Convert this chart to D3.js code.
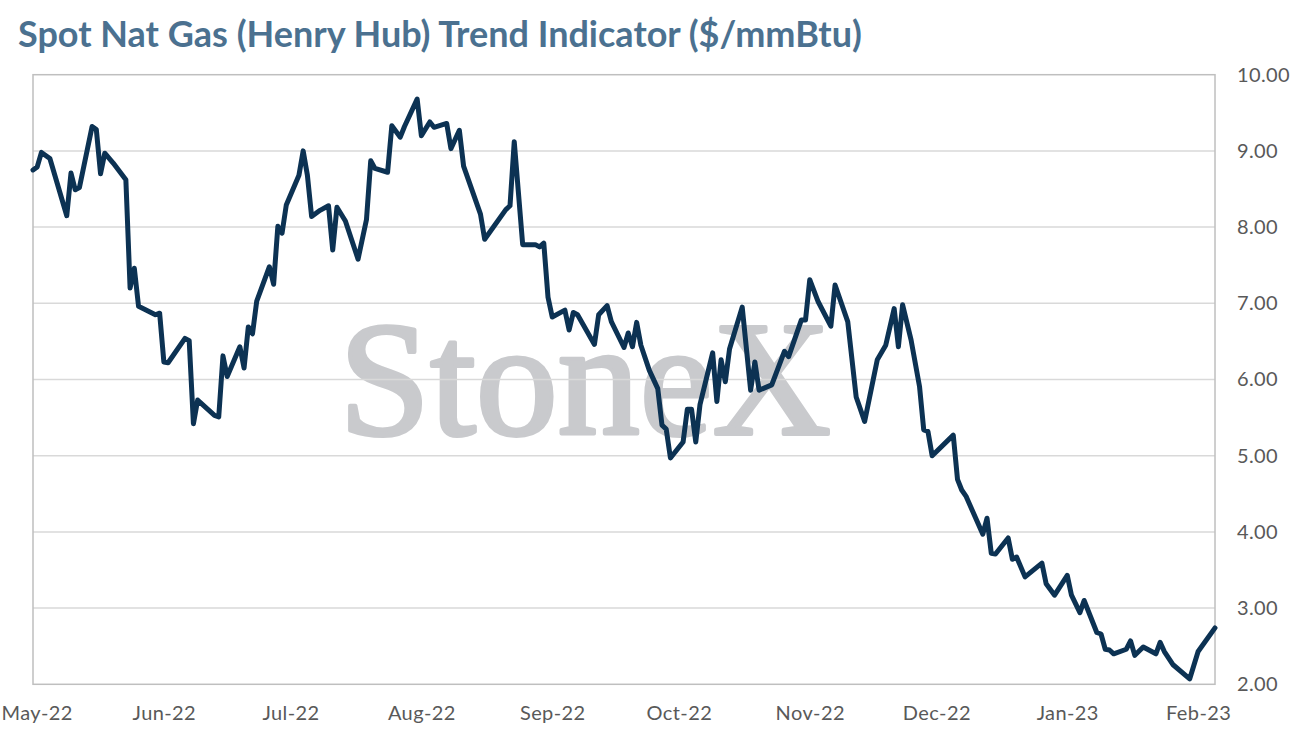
<!DOCTYPE html>
<html>
<head>
<meta charset="utf-8">
<script src="https://cdn.jsdelivr.net/npm/d3@7"></script>
<style>
  body { margin: 0; background: #fff; }
  svg { display: block; }
</style>
</head>
<body>
<div id="chart-container"></div>
<script>
const chartTitle = 'Spot Nat Gas (Henry Hub) Trend Indicator ($/mmBtu)';

const dates = [
  '2022-05-02', '2022-05-03', '2022-05-04', '2022-05-06', '2022-05-10', '2022-05-11', '2022-05-12', '2022-05-13',
  '2022-05-16', '2022-05-17', '2022-05-18', '2022-05-19', '2022-05-21', '2022-05-24', '2022-05-25', '2022-05-26',
  '2022-05-27', '2022-05-31', '2022-06-01', '2022-06-02', '2022-06-03', '2022-06-07', '2022-06-08', '2022-06-09',
  '2022-06-10', '2022-06-14', '2022-06-15', '2022-06-16', '2022-06-17', '2022-06-20', '2022-06-21', '2022-06-22',
  '2022-06-23', '2022-06-24', '2022-06-27', '2022-06-28', '2022-06-29', '2022-06-30', '2022-07-01', '2022-07-04',
  '2022-07-05', '2022-07-06', '2022-07-07', '2022-07-09', '2022-07-11', '2022-07-12', '2022-07-13', '2022-07-15',
  '2022-07-18', '2022-07-20', '2022-07-21', '2022-07-22', '2022-07-25', '2022-07-26', '2022-07-28', '2022-07-29',
  '2022-08-01', '2022-08-02', '2022-08-04', '2022-08-05', '2022-08-08', '2022-08-09', '2022-08-11', '2022-08-12',
  '2022-08-16', '2022-08-17', '2022-08-22', '2022-08-23', '2022-08-24', '2022-08-26', '2022-08-29', '2022-08-30',
  '2022-08-31', '2022-09-01', '2022-09-02', '2022-09-05', '2022-09-06', '2022-09-07', '2022-09-08', '2022-09-12',
  '2022-09-13', '2022-09-15', '2022-09-16', '2022-09-19', '2022-09-20', '2022-09-21', '2022-09-22', '2022-09-23',
  '2022-09-25', '2022-09-27', '2022-09-28', '2022-09-29', '2022-09-30', '2022-10-03', '2022-10-04', '2022-10-05',
  '2022-10-06', '2022-10-07', '2022-10-10', '2022-10-11', '2022-10-12', '2022-10-13', '2022-10-14', '2022-10-17',
  '2022-10-19', '2022-10-20', '2022-10-21', '2022-10-24', '2022-10-27', '2022-10-28', '2022-10-31', '2022-11-01',
  '2022-11-02', '2022-11-04', '2022-11-07', '2022-11-08', '2022-11-11', '2022-11-13', '2022-11-15', '2022-11-18',
  '2022-11-20', '2022-11-22', '2022-11-23', '2022-11-24', '2022-11-26', '2022-11-28', '2022-11-29', '2022-11-30',
  '2022-12-01', '2022-12-06', '2022-12-07', '2022-12-08', '2022-12-09', '2022-12-13', '2022-12-14', '2022-12-15',
  '2022-12-16', '2022-12-19', '2022-12-20', '2022-12-21', '2022-12-23', '2022-12-27', '2022-12-28', '2022-12-30',
  '2023-01-02', '2023-01-03', '2023-01-05', '2023-01-06', '2023-01-09', '2023-01-10', '2023-01-11', '2023-01-12',
  '2023-01-13', '2023-01-16', '2023-01-17', '2023-01-18', '2023-01-20', '2023-01-23', '2023-01-24', '2023-01-25',
  '2023-01-27', '2023-01-31', '2023-02-02', '2023-02-06'
];

const prices = [
  8.75, 8.79, 8.98, 8.90, 8.15, 8.71, 8.49, 8.52,
  9.32, 9.28, 8.70, 8.97, 8.84, 8.62, 7.20, 7.46,
  6.96, 6.85, 6.87, 6.23, 6.22, 6.54, 6.51, 5.42,
  5.73, 5.53, 5.51, 6.31, 6.04, 6.43, 6.15, 6.69,
  6.60, 7.03, 7.48, 7.25, 8.01, 7.92, 8.29, 8.68,
  9.00, 8.68, 8.14, 8.22, 8.28, 7.70, 8.26, 8.08,
  7.58, 8.10, 8.87, 8.77, 8.72, 9.33, 9.18, 9.32,
  9.68, 9.20, 9.38, 9.31, 9.36, 9.03, 9.27, 8.80,
  8.17, 7.84, 8.23, 8.28, 9.12, 7.77, 7.77, 7.74,
  7.79, 7.08, 6.82, 6.91, 6.65, 6.88, 6.85, 6.46,
  6.85, 6.97, 6.76, 6.42, 6.61, 6.43, 6.75, 6.45,
  6.12, 5.88, 5.40, 5.35, 4.97, 5.18, 5.61, 5.61,
  5.18, 5.67, 6.35, 5.71, 6.26, 5.97, 6.40, 6.95,
  5.86, 6.23, 5.86, 5.93, 6.37, 6.30, 6.78, 6.78,
  7.31, 7.02, 6.70, 7.24, 6.76, 5.77, 5.45, 6.26,
  6.45, 6.93, 6.43, 6.98, 6.52, 5.91, 5.34, 5.32,
  5.00, 5.27, 4.69, 4.55, 4.47, 3.97, 4.18, 3.72,
  3.71, 3.92, 3.64, 3.67, 3.41, 3.59, 3.32, 3.17,
  3.43, 3.17, 2.94, 3.10, 2.68, 2.66, 2.46, 2.45,
  2.40, 2.46, 2.57, 2.38, 2.49, 2.40, 2.55, 2.43,
  2.26, 2.07, 2.43, 2.74
];

// axis runs from the first to the last data day, month labels sit on the 2nd like the source
const xDomain = ['2022-05-02', '2023-02-06'];
const xTickDates = ['2022-05-02', '2022-06-02', '2022-07-02', '2022-08-02', '2022-09-02',
  '2022-10-02', '2022-11-02', '2022-12-02', '2023-01-02', '2023-02-02'];
const xTickLabels = ['May-22', 'Jun-22', 'Jul-22', 'Aug-22', 'Sep-22', 'Oct-22', 'Nov-22', 'Dec-22', 'Jan-23', 'Feb-23'];
const yTicks = [2, 3, 4, 5, 6, 7, 8, 9, 10];

const parseDate = d3.timeParse('%Y-%m-%d');
const data = dates.map((d, i) => ({ date: parseDate(d), value: prices[i] }));

const W = 1294, H = 744;
const plot = { left: 33, right: 1215, top: 74.7, bottom: 684.3 };

const svg = d3.select('#chart-container')
  .append('svg')
  .attr('width', W)
  .attr('height', H);

const xScale = d3.scaleTime()
  .domain(xDomain.map(parseDate))
  .range([plot.left, plot.right]);

const yScale = d3.scaleLinear()
  .domain([2, 10])
  .range([plot.bottom, plot.top]);

// title
const title = svg.append('text')
  .attr('x', 18)
  .attr('y', 47)
  .attr('font-family', 'Lato, "Open Sans", sans-serif')
  .attr('font-weight', 'bold')
  .attr('font-size', 29)
  .attr('fill', '#4b7190')
  .text(chartTitle);
const tw = title.node().getComputedTextLength();
title.attr('font-size', 29 * 844 / tw);

// watermark sits behind the grid, stroked a bit to get the heavier source face
svg.append('text')
  .attr('x', 339)
  .attr('y', 434)
  .attr('font-family', '"Liberation Serif", "DejaVu Serif", serif')
  .attr('font-size', 164)
  .attr('fill', '#c9cacd')
  .attr('stroke', '#c9cacd')
  .attr('stroke-width', 4)
  .attr('stroke-linejoin', 'round')
  .text('StoneX');

// horizontal gridlines
svg.append('g')
  .selectAll('line')
  .data(yTicks.filter((t) => t > 2 && t < 10))
  .enter()
  .append('line')
  .attr('x1', plot.left)
  .attr('x2', plot.right)
  .attr('y1', (d) => yScale(d))
  .attr('y2', (d) => yScale(d))
  .attr('stroke', '#d9d9d9')
  .attr('stroke-width', 1.5);

// plot frame
svg.append('rect')
  .attr('x', plot.left)
  .attr('y', plot.top)
  .attr('width', plot.right - plot.left)
  .attr('height', plot.bottom - plot.top)
  .attr('fill', 'none')
  .attr('stroke', '#bfbfbf')
  .attr('stroke-width', 1.5);

const line = d3.line()
  .x((d) => xScale(d.date))
  .y((d) => yScale(d.value));

svg.append('path')
  .datum(data)
  .attr('d', line)
  .attr('fill', 'none')
  .attr('stroke', '#0c3253')
  .attr('stroke-width', 5)
  .attr('stroke-linejoin', 'round')
  .attr('stroke-linecap', 'round');

// axes
const xAxis = d3.axisBottom(xScale)
  .tickValues(xTickDates.map(parseDate))
  .tickFormat((d, i) => xTickLabels[i])
  .tickSize(0)
  .tickPadding(0);

svg.append('g')
  .attr('class', 'x-axis')
  .attr('transform', `translate(0, ${plot.bottom})`)
  .call(xAxis);

const yAxis = d3.axisRight(yScale)
  .tickValues(yTicks)
  .tickFormat(d3.format('.2f'))
  .tickSize(0)
  .tickPadding(22);

svg.append('g')
  .attr('class', 'y-axis')
  .attr('transform', `translate(${plot.right}, 0)`)
  .call(yAxis);

d3.selectAll('.x-axis path, .y-axis path').remove();
d3.selectAll('.x-axis text, .y-axis text')
  .attr('fill', '#595959')
  .attr('font-family', 'Lato, "Open Sans", sans-serif')
  .attr('font-size', 20)
  .attr('letter-spacing', 0.4);
d3.selectAll('.x-axis text')
  .attr('dy', null)
  .attr('y', 36);

// first month label would run off the left edge; pin it to the edge instead
d3.selectAll('.x-axis .tick text')
  .filter((d, i) => i === 0)
  .attr('text-anchor', 'start')
  .attr('x', 1 - plot.left);
</script>
</body>
</html>
